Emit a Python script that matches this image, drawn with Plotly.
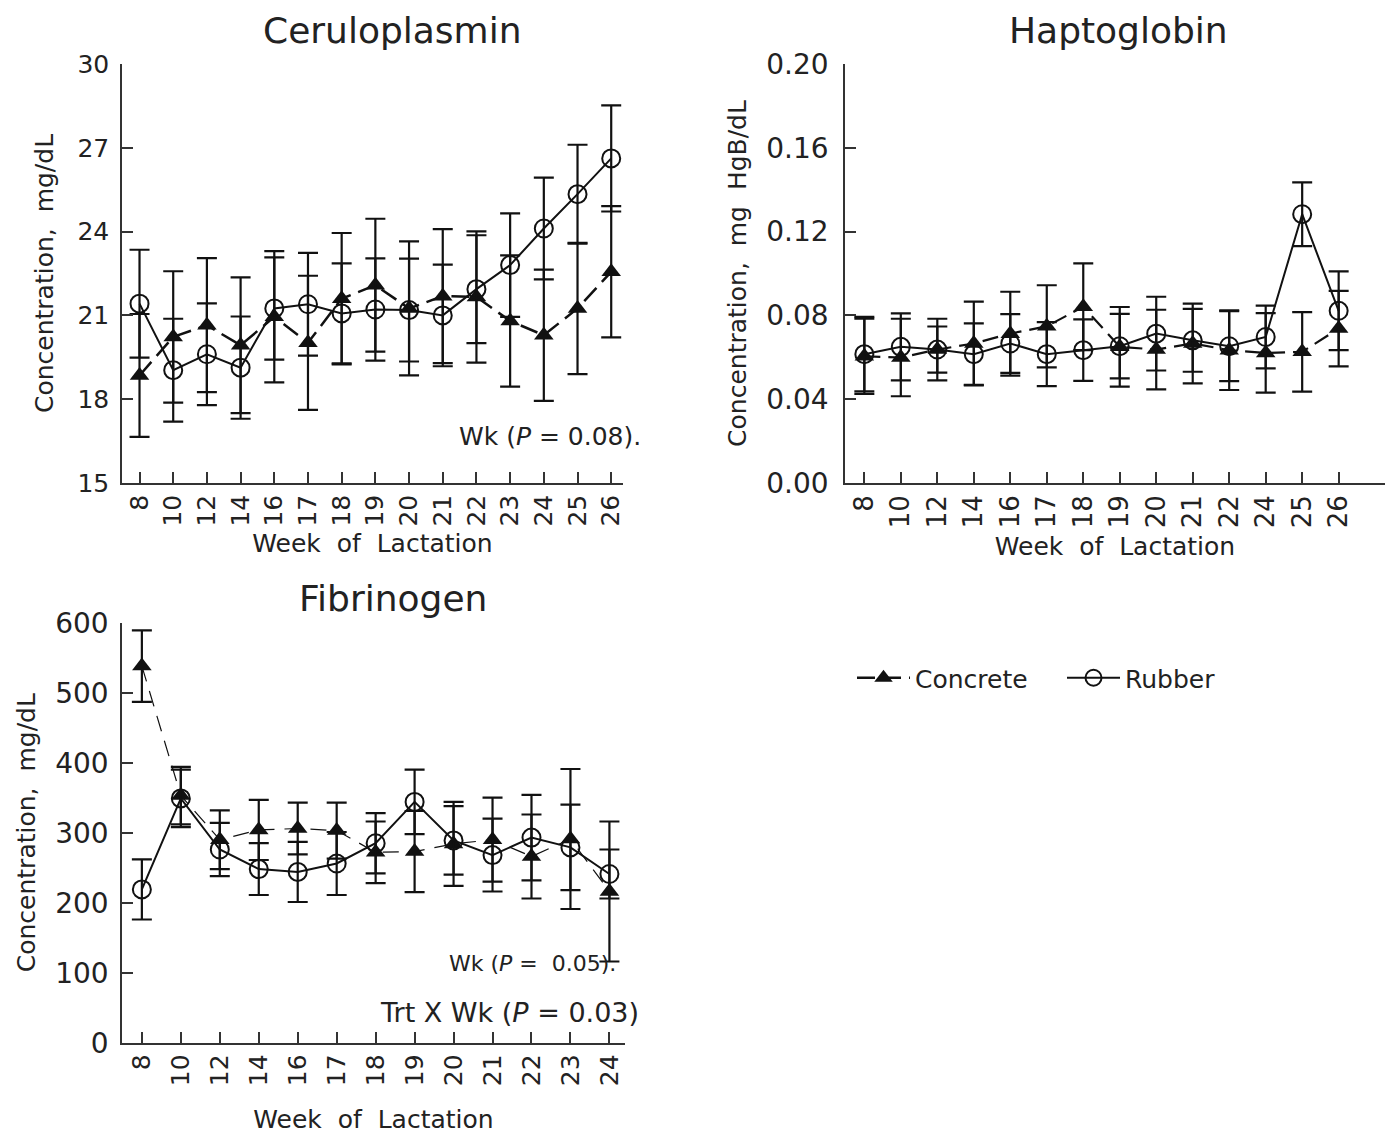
import plotly.graph_objects as go

# ---------------- data ----------------
cer_weeks = ["8", "10", "12", "14", "16", "17", "18", "19", "20", "21", "22", "23", "24", "25", "26"]
cer_rubber = [21.42, 19.04, 19.61, 19.13, 21.25, 21.40, 21.07, 21.21, 21.19, 21.00, 21.94, 22.80, 24.11, 25.34, 26.62]
cer_rubber_se = [1.93, 1.84, 1.82, 1.83, 1.83, 1.84, 1.79, 1.83, 1.84, 1.82, 1.93, 1.85, 1.82, 1.77, 1.90]
cer_concrete = [18.85, 20.23, 20.65, 19.93, 20.95, 20.02, 21.60, 22.08, 21.25, 21.69, 21.66, 20.80, 20.29, 21.25, 22.56]
cer_concrete_se = [2.20, 2.35, 2.40, 2.43, 2.35, 2.40, 2.35, 2.38, 2.40, 2.40, 2.35, 2.35, 2.35, 2.35, 2.35]

hap_weeks = ["8", "10", "12", "14", "16", "17", "18", "19", "20", "21", "22", "24", "25", "26"]
hap_rubber = [0.0615, 0.0650, 0.0637, 0.0615, 0.0666, 0.0615, 0.0634, 0.0653, 0.0713, 0.0681, 0.0653, 0.0697, 0.1283, 0.0822]
hap_rubber_se = [0.0178, 0.0160, 0.0110, 0.0147, 0.0140, 0.0153, 0.0147, 0.0154, 0.0176, 0.0150, 0.0167, 0.0150, 0.0152, 0.0188]
hap_concrete = [0.0605, 0.0599, 0.0637, 0.0666, 0.0713, 0.0748, 0.0841, 0.0650, 0.0637, 0.0666, 0.0634, 0.0621, 0.0626, 0.0737]
hap_concrete_se = [0.0180, 0.0185, 0.0147, 0.0200, 0.0200, 0.0196, 0.0207, 0.0190, 0.0190, 0.0190, 0.0190, 0.0190, 0.0190, 0.0180]

fib_weeks = ["8", "10", "12", "14", "16", "17", "18", "19", "20", "21", "22", "23", "24"]
fib_rubber = [219, 349, 276, 248, 244, 256, 285, 344, 289, 268, 293, 279, 241]
fib_rubber_se = [43, 41, 38, 37, 43, 45, 43, 46, 49, 52, 61, 61, 35]
fib_concrete = [538, 353, 290, 304, 306, 303, 272, 273, 284, 290, 266, 291, 216]
fib_concrete_se = [51, 41, 42, 43, 37, 40, 44, 58, 60, 60, 60, 100, 100]

FONT = "DejaVu Sans, Liberation Sans, Arial, sans-serif"
TXT = "#222222"
INK = "#111111"
FS = 25

fig = go.Figure()


def add_pair(weeks, conc, conc_se, rub, rub_se, xa, ya, conc_w, conc_dash, show):
    fig.add_trace(go.Scatter(
        x=weeks, y=conc, name="Concrete", legendgroup="c", showlegend=show,
        mode="lines+markers", xaxis=xa, yaxis=ya,
        line=dict(color=INK, width=conc_w, dash=conc_dash),
        marker=dict(symbol="triangle-up", size=17, color=INK),
        error_y=dict(type="data", array=conc_se, color=INK, thickness=2.2, width=10),
    ))
    fig.add_trace(go.Scatter(
        x=weeks, y=rub, name="Rubber", legendgroup="r", showlegend=show,
        mode="lines+markers", xaxis=xa, yaxis=ya,
        line=dict(color=INK, width=2),
        marker=dict(symbol="circle-open", size=18, color=INK, line=dict(width=2, color=INK)),
        error_y=dict(type="data", array=rub_se, color=INK, thickness=2.2, width=10),
    ))


add_pair(cer_weeks, cer_concrete, cer_concrete_se, cer_rubber, cer_rubber_se, "x", "y", 2.5, "18px,8px", True)
add_pair(hap_weeks, hap_concrete, hap_concrete_se, hap_rubber, hap_rubber_se, "x2", "y2", 2.2, "16px,8px", False)
add_pair(fib_weeks, fib_concrete, fib_concrete_se, fib_rubber, fib_rubber_se, "x3", "y3", 1.2, "16px,10px", False)

W, H = 1385, 1134


def px_x(p):
    return p / W


def px_y(p):
    return 1 - p / H


ytitle = "Concentration,\u00a0 mg/dL"
xtitle = "Week\u00a0 of\u00a0 Lactation"


def xax(size):
    return dict(type="category", showline=True, linecolor="#333", linewidth=1.5,
                ticks="inside", ticklen=11, tickwidth=1.5, tickcolor="#333",
                tickangle=-90, showgrid=False, zeroline=False, automargin=False,
                tickfont=dict(size=size, color=TXT, family=FONT),
                title_font=dict(size=FS, color=TXT, family=FONT))


def yax(size):
    return dict(showline=True, linecolor="#333", linewidth=1.5,
                ticks="inside", ticklen=11, tickwidth=1.5, tickcolor="#333",
                showgrid=False, zeroline=False, automargin=False,
                tickfont=dict(size=size, color=TXT, family=FONT),
                title_font=dict(size=FS, color=TXT, family=FONT))


fig.update_layout(
    width=W, height=H,
    margin=dict(l=0, r=0, t=0, b=0, autoexpand=False),
    paper_bgcolor="white", plot_bgcolor="white",
    font=dict(family=FONT, color=TXT),
    xaxis=dict(xax(25), domain=[px_x(122), px_x(623)], anchor="y",
               range=[-0.52, 14.35], title=dict(text=xtitle, standoff=9)),
    yaxis=dict(yax(25), domain=[px_y(483), px_y(64)], anchor="x",
               range=[15, 30], dtick=3, tick0=15, ticklabelstandoff=6,
               title=dict(text=ytitle, standoff=17)),
    xaxis2=dict(xax(26), domain=[px_x(845), 1.0], anchor="y2",
                range=[-0.53, 14.27], title=dict(text=xtitle, standoff=10)),
    yaxis2=dict(yax(28), domain=[px_y(483), px_y(64)], anchor="x2",
                range=[0, 0.2], dtick=0.04, tick0=0, tickformat=".2f", ticklabelstandoff=9,
                title=dict(text="Concentration,\u00a0 mg\u00a0 HgB/dL", standoff=13)),
    xaxis3=dict(xax(25), domain=[px_x(122), px_x(625)], anchor="y3",
                range=[-0.51, 12.4], title=dict(text=xtitle, standoff=38)),
    yaxis3=dict(yax(28), domain=[px_y(1042.7), px_y(622.7)], anchor="x3",
                range=[0, 600], dtick=100, tick0=0, ticklabelstandoff=6,
                title=dict(text=ytitle, standoff=12)),
    legend=dict(orientation="h", x=px_x(852), y=px_y(678), xanchor="left", yanchor="middle",
                font=dict(size=FS, color=TXT, family=FONT), itemwidth=53,
                entrywidth=142, entrywidthmode="pixels",
                bgcolor="rgba(0,0,0,0)"),
    showlegend=True,
)

annots = [
    dict(text="Ceruloplasmin", x=px_x(392), y=px_y(30), size=36),
    dict(text="Haptoglobin", x=px_x(1118), y=px_y(30), size=36),
    dict(text="Fibrinogen", x=px_x(393), y=px_y(598), size=36),
]
for a in annots:
    fig.add_annotation(text=a["text"], x=a["x"], y=a["y"], xref="paper", yref="paper",
                       showarrow=False, xanchor="center", yanchor="middle",
                       font=dict(size=a["size"], color=TXT, family=FONT))

notes = [
    ("Wk (<i>P</i> = 0.08).", 643, 436, 25),
    ("Wk (<i>P</i> =\u00a0 0.05).", 618, 963, 22),
    ("Trt X Wk (<i>P</i> = 0.03)", 641, 1012, 27),
]
for t, xr, yc, fs in notes:
    fig.add_annotation(text=t, x=px_x(xr), y=px_y(yc), xref="paper", yref="paper",
                       showarrow=False, xanchor="right", yanchor="middle",
                       font=dict(size=fs, color=TXT, family=FONT))

fig.write_html("out.html")
